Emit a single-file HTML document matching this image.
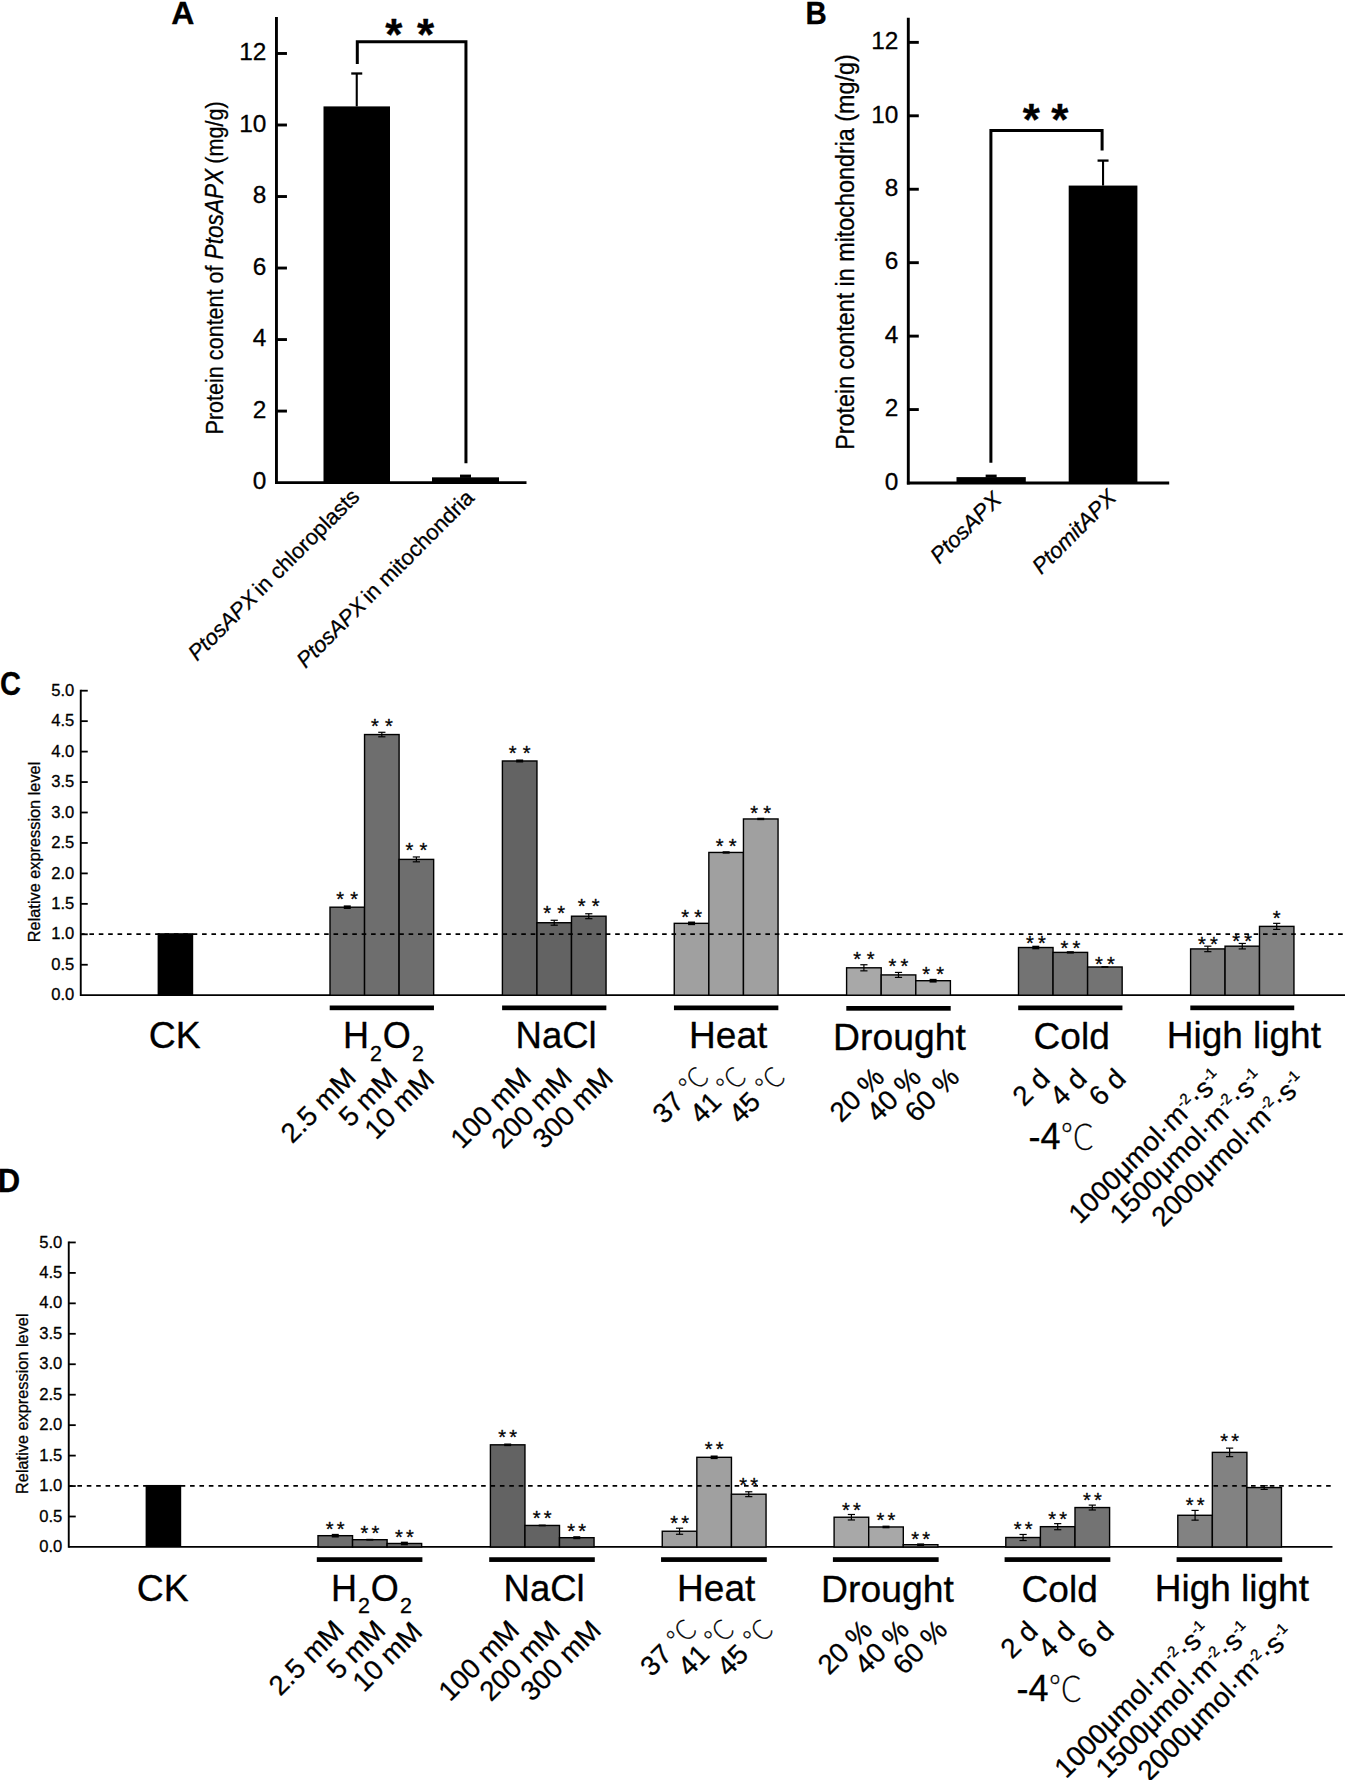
<!DOCTYPE html>
<html lang="en">
<head>
<meta charset="utf-8">
<title>Figure</title>
<style>
html,body{margin:0;padding:0;background:#fff;}
svg{display:block;}
text{font-family:"Liberation Sans",sans-serif;fill:#000;stroke:#000;stroke-width:0.3px;stroke-linejoin:round;}
</style>
</head>
<body>
<svg width="1345" height="1780" viewBox="0 0 1345 1780">
<rect x="0" y="0" width="1345" height="1780" fill="#fff"/>
<g id="panelA">
<text transform="translate(171.30 24.10) scale(1.0 1)" font-size="32.0" font-weight="bold">A</text>
<line x1="276.45" y1="17.00" x2="276.45" y2="484.00" stroke="#000" stroke-width="2.9" />
<line x1="275.05" y1="482.60" x2="526.50" y2="482.60" stroke="#000" stroke-width="2.9" />
<line x1="276.45" y1="411.08" x2="286.95" y2="411.08" stroke="#000" stroke-width="2.9" />
<line x1="276.45" y1="339.56" x2="286.95" y2="339.56" stroke="#000" stroke-width="2.9" />
<line x1="276.45" y1="268.04" x2="286.95" y2="268.04" stroke="#000" stroke-width="2.9" />
<line x1="276.45" y1="196.52" x2="286.95" y2="196.52" stroke="#000" stroke-width="2.9" />
<line x1="276.45" y1="125.00" x2="286.95" y2="125.00" stroke="#000" stroke-width="2.9" />
<line x1="276.45" y1="53.48" x2="286.95" y2="53.48" stroke="#000" stroke-width="2.9" />
<text x="266.45" y="489.30" font-size="24.4" text-anchor="end" >0</text>
<text x="266.45" y="417.78" font-size="24.4" text-anchor="end" >2</text>
<text x="266.45" y="346.26" font-size="24.4" text-anchor="end" >4</text>
<text x="266.45" y="274.74" font-size="24.4" text-anchor="end" >6</text>
<text x="266.45" y="203.22" font-size="24.4" text-anchor="end" >8</text>
<text x="266.45" y="131.70" font-size="24.4" text-anchor="end" >10</text>
<text x="266.45" y="60.18" font-size="24.4" text-anchor="end" >12</text>
<rect x="323.50" y="106.40" width="66.50" height="376.70" fill="#000"/>
<line x1="356.75" y1="73.50" x2="356.75" y2="106.40" stroke="#000" stroke-width="2.1" />
<line x1="351.25" y1="73.50" x2="362.25" y2="73.50" stroke="#000" stroke-width="2.3" />
<rect x="432.00" y="477.34" width="67.00" height="5.76" fill="#000"/>
<rect x="460.00" y="474.60" width="11.00" height="3.24" fill="#000"/>
<path d="M357.30,63.90 V41.80 H465.95 V463.30" fill="none" stroke="#000" stroke-width="3" stroke-linejoin="miter"/>
<text x="393.90" y="50.40" font-size="44" text-anchor="middle" font-weight="bold" >*</text>
<text x="425.60" y="50.40" font-size="44" text-anchor="middle" font-weight="bold" >*</text>
<text transform="translate(223 434.5) rotate(-90) scale(0.8777 1)" font-size="24.6">Protein content of <tspan font-style="italic" font-size="25.8">PtosAPX</tspan><tspan dx="-1.0"> (mg/g)</tspan></text>
<text x="360.80" y="498.00" font-size="21.9" text-anchor="end" transform="rotate(-45 360.80 498.00)" ><tspan font-style="italic">PtosAPX</tspan><tspan dx="-2"> in chloroplasts</tspan></text>
<text x="475.40" y="499.20" font-size="21.9" text-anchor="end" transform="rotate(-45 475.40 499.20)" ><tspan font-style="italic">PtosAPX</tspan><tspan dx="-2"> in mitochondria</tspan></text>
</g>
<g id="panelB">
<text transform="translate(805.60 24.00) scale(0.925 1)" font-size="31.8" font-weight="bold">B</text>
<line x1="908.30" y1="17.80" x2="908.30" y2="484.40" stroke="#000" stroke-width="2.9" />
<line x1="906.90" y1="483.00" x2="1169.20" y2="483.00" stroke="#000" stroke-width="2.9" />
<line x1="908.30" y1="409.56" x2="918.80" y2="409.56" stroke="#000" stroke-width="2.9" />
<line x1="908.30" y1="336.12" x2="918.80" y2="336.12" stroke="#000" stroke-width="2.9" />
<line x1="908.30" y1="262.68" x2="918.80" y2="262.68" stroke="#000" stroke-width="2.9" />
<line x1="908.30" y1="189.24" x2="918.80" y2="189.24" stroke="#000" stroke-width="2.9" />
<line x1="908.30" y1="115.80" x2="918.80" y2="115.80" stroke="#000" stroke-width="2.9" />
<line x1="908.30" y1="42.36" x2="918.80" y2="42.36" stroke="#000" stroke-width="2.9" />
<text x="898.30" y="489.70" font-size="24.4" text-anchor="end" >0</text>
<text x="898.30" y="416.26" font-size="24.4" text-anchor="end" >2</text>
<text x="898.30" y="342.82" font-size="24.4" text-anchor="end" >4</text>
<text x="898.30" y="269.38" font-size="24.4" text-anchor="end" >6</text>
<text x="898.30" y="195.94" font-size="24.4" text-anchor="end" >8</text>
<text x="898.30" y="122.50" font-size="24.4" text-anchor="end" >10</text>
<text x="898.30" y="49.06" font-size="24.4" text-anchor="end" >12</text>
<rect x="956.50" y="477.12" width="69.30" height="6.38" fill="#000"/>
<rect x="985.65" y="474.60" width="11.00" height="3.02" fill="#000"/>
<rect x="1068.70" y="185.57" width="68.70" height="297.93" fill="#000"/>
<line x1="1103.05" y1="160.60" x2="1103.05" y2="185.57" stroke="#000" stroke-width="2.1" />
<line x1="1097.55" y1="160.60" x2="1108.55" y2="160.60" stroke="#000" stroke-width="2.3" />
<path d="M990.90,462.80 V130.60 H1102.10 V150.50" fill="none" stroke="#000" stroke-width="3" stroke-linejoin="miter"/>
<text x="1031.30" y="135.40" font-size="44" text-anchor="middle" font-weight="bold" >*</text>
<text x="1059.70" y="135.40" font-size="44" text-anchor="middle" font-weight="bold" >*</text>
<text x="854.00" y="449.80" font-size="25" text-anchor="start" transform="rotate(-90 854.00 449.80)" textLength="395.5" lengthAdjust="spacingAndGlyphs" >Protein content in mitochondria (mg/g)</text>
<text x="1002.70" y="501.30" font-size="22.4" text-anchor="end" transform="rotate(-45 1002.70 501.30)" font-style="italic">PtosAPX</text>
<text x="1117.50" y="499.10" font-size="22.3" text-anchor="end" transform="rotate(-45 1117.50 499.10)" font-style="italic">PtomitAPX</text>
</g>
<g id="panelC">
<text transform="translate(0.00 694.60) scale(0.88 1)" font-size="33.0" font-weight="bold">C</text>
<line x1="80.75" y1="689.80" x2="80.75" y2="996.10" stroke="#000" stroke-width="1.9" />
<line x1="80.75" y1="995.20" x2="1345.00" y2="995.20" stroke="#000" stroke-width="1.8" />
<text x="74.25" y="1000.30" font-size="16.6" text-anchor="end" >0.0</text>
<line x1="80.75" y1="964.75" x2="87.75" y2="964.75" stroke="#000" stroke-width="1.8" />
<text x="74.25" y="969.85" font-size="16.6" text-anchor="end" >0.5</text>
<line x1="80.75" y1="934.30" x2="87.75" y2="934.30" stroke="#000" stroke-width="1.8" />
<text x="74.25" y="939.40" font-size="16.6" text-anchor="end" >1.0</text>
<line x1="80.75" y1="903.85" x2="87.75" y2="903.85" stroke="#000" stroke-width="1.8" />
<text x="74.25" y="908.95" font-size="16.6" text-anchor="end" >1.5</text>
<line x1="80.75" y1="873.40" x2="87.75" y2="873.40" stroke="#000" stroke-width="1.8" />
<text x="74.25" y="878.50" font-size="16.6" text-anchor="end" >2.0</text>
<line x1="80.75" y1="842.95" x2="87.75" y2="842.95" stroke="#000" stroke-width="1.8" />
<text x="74.25" y="848.05" font-size="16.6" text-anchor="end" >2.5</text>
<line x1="80.75" y1="812.50" x2="87.75" y2="812.50" stroke="#000" stroke-width="1.8" />
<text x="74.25" y="817.60" font-size="16.6" text-anchor="end" >3.0</text>
<line x1="80.75" y1="782.05" x2="87.75" y2="782.05" stroke="#000" stroke-width="1.8" />
<text x="74.25" y="787.15" font-size="16.6" text-anchor="end" >3.5</text>
<line x1="80.75" y1="751.60" x2="87.75" y2="751.60" stroke="#000" stroke-width="1.8" />
<text x="74.25" y="756.70" font-size="16.6" text-anchor="end" >4.0</text>
<line x1="80.75" y1="721.15" x2="87.75" y2="721.15" stroke="#000" stroke-width="1.8" />
<text x="74.25" y="726.25" font-size="16.6" text-anchor="end" >4.5</text>
<line x1="80.75" y1="690.70" x2="87.75" y2="690.70" stroke="#000" stroke-width="1.8" />
<text x="74.25" y="695.80" font-size="16.6" text-anchor="end" >5.0</text>
<text x="39.75" y="942.20" font-size="16" text-anchor="start" transform="rotate(-90 39.75 942.20)" textLength="180.5" lengthAdjust="spacingAndGlyphs" >Relative expression level</text>
<rect x="157.60" y="933.20" width="35.60" height="62.00" fill="#000"/>
<rect x="330.00" y="907.20" width="34.55" height="88.00" fill="#6e6e6e" stroke="#000" stroke-width="1.4"/>
<rect x="364.55" y="734.55" width="34.55" height="260.65" fill="#6e6e6e" stroke="#000" stroke-width="1.4"/>
<rect x="399.10" y="859.39" width="34.55" height="135.81" fill="#6e6e6e" stroke="#000" stroke-width="1.4"/>
<line x1="343.77" y1="907.20" x2="350.77" y2="907.20" stroke="#000" stroke-width="3.636" />
<text x="340.27" y="906.10" font-size="20" text-anchor="middle" >*</text>
<text x="354.27" y="906.10" font-size="20" text-anchor="middle" >*</text>
<line x1="381.82" y1="732.29" x2="381.82" y2="736.80" stroke="#000" stroke-width="1.2" />
<line x1="378.22" y1="732.29" x2="385.43" y2="732.29" stroke="#000" stroke-width="1.2" />
<line x1="378.22" y1="736.80" x2="385.43" y2="736.80" stroke="#000" stroke-width="1.2" />
<text x="374.82" y="733.45" font-size="20" text-anchor="middle" >*</text>
<text x="388.82" y="733.45" font-size="20" text-anchor="middle" >*</text>
<line x1="416.38" y1="856.96" x2="416.38" y2="861.83" stroke="#000" stroke-width="1.2" />
<line x1="412.77" y1="856.96" x2="419.98" y2="856.96" stroke="#000" stroke-width="1.2" />
<line x1="412.77" y1="861.83" x2="419.98" y2="861.83" stroke="#000" stroke-width="1.2" />
<text x="409.38" y="856.54" font-size="20" text-anchor="middle" >*</text>
<text x="423.38" y="856.54" font-size="20" text-anchor="middle" >*</text>
<rect x="329.70" y="1005.50" width="104.25" height="4.70" fill="#000"/>
<rect x="502.40" y="760.98" width="34.55" height="234.22" fill="#636363" stroke="#000" stroke-width="1.4"/>
<rect x="536.95" y="922.73" width="34.55" height="72.47" fill="#636363" stroke="#000" stroke-width="1.4"/>
<rect x="571.50" y="916.21" width="34.55" height="78.99" fill="#636363" stroke="#000" stroke-width="1.4"/>
<line x1="516.17" y1="760.98" x2="523.17" y2="760.98" stroke="#000" stroke-width="3.027" />
<text x="512.67" y="759.88" font-size="20" text-anchor="middle" >*</text>
<text x="526.67" y="759.88" font-size="20" text-anchor="middle" >*</text>
<line x1="554.22" y1="920.26" x2="554.22" y2="925.20" stroke="#000" stroke-width="1.2" />
<line x1="550.62" y1="920.26" x2="557.82" y2="920.26" stroke="#000" stroke-width="1.2" />
<line x1="550.62" y1="925.20" x2="557.82" y2="925.20" stroke="#000" stroke-width="1.2" />
<text x="547.22" y="919.88" font-size="20" text-anchor="middle" >*</text>
<text x="561.22" y="919.88" font-size="20" text-anchor="middle" >*</text>
<line x1="588.77" y1="913.75" x2="588.77" y2="918.68" stroke="#000" stroke-width="1.2" />
<line x1="585.17" y1="913.75" x2="592.38" y2="913.75" stroke="#000" stroke-width="1.2" />
<line x1="585.17" y1="918.68" x2="592.38" y2="918.68" stroke="#000" stroke-width="1.2" />
<text x="581.77" y="913.36" font-size="20" text-anchor="middle" >*</text>
<text x="595.77" y="913.36" font-size="20" text-anchor="middle" >*</text>
<rect x="502.10" y="1005.50" width="104.25" height="4.70" fill="#000"/>
<rect x="674.25" y="923.34" width="34.60" height="71.86" fill="#a0a0a0" stroke="#000" stroke-width="1.4"/>
<rect x="708.85" y="852.45" width="34.60" height="142.75" fill="#a0a0a0" stroke="#000" stroke-width="1.4"/>
<rect x="743.45" y="818.96" width="34.60" height="176.24" fill="#a0a0a0" stroke="#000" stroke-width="1.4"/>
<line x1="688.05" y1="923.34" x2="695.05" y2="923.34" stroke="#000" stroke-width="3.636" />
<text x="685.05" y="924.24" font-size="20" text-anchor="middle" >*</text>
<text x="698.05" y="924.24" font-size="20" text-anchor="middle" >*</text>
<line x1="722.65" y1="852.45" x2="729.65" y2="852.45" stroke="#000" stroke-width="2.418" />
<text x="719.65" y="853.35" font-size="20" text-anchor="middle" >*</text>
<text x="732.65" y="853.35" font-size="20" text-anchor="middle" >*</text>
<line x1="757.25" y1="818.96" x2="764.25" y2="818.96" stroke="#000" stroke-width="2.418" />
<text x="754.25" y="819.86" font-size="20" text-anchor="middle" >*</text>
<text x="767.25" y="819.86" font-size="20" text-anchor="middle" >*</text>
<rect x="673.95" y="1005.50" width="104.40" height="4.70" fill="#000"/>
<rect x="846.60" y="967.80" width="34.60" height="27.41" fill="#a8a8a8" stroke="#000" stroke-width="1.4"/>
<rect x="881.20" y="974.92" width="34.60" height="20.28" fill="#a8a8a8" stroke="#000" stroke-width="1.4"/>
<rect x="915.80" y="980.71" width="34.60" height="14.49" fill="#a8a8a8" stroke="#000" stroke-width="1.4"/>
<line x1="863.90" y1="964.75" x2="863.90" y2="970.84" stroke="#000" stroke-width="1.2" />
<line x1="860.30" y1="964.75" x2="867.50" y2="964.75" stroke="#000" stroke-width="1.2" />
<line x1="860.30" y1="970.84" x2="867.50" y2="970.84" stroke="#000" stroke-width="1.2" />
<text x="857.15" y="965.75" font-size="20" text-anchor="middle" >*</text>
<text x="870.65" y="965.75" font-size="20" text-anchor="middle" >*</text>
<line x1="898.50" y1="972.42" x2="898.50" y2="977.42" stroke="#000" stroke-width="1.2" />
<line x1="894.90" y1="972.42" x2="902.10" y2="972.42" stroke="#000" stroke-width="1.2" />
<line x1="894.90" y1="977.42" x2="902.10" y2="977.42" stroke="#000" stroke-width="1.2" />
<text x="892.50" y="973.27" font-size="20" text-anchor="middle" >*</text>
<text x="904.50" y="973.27" font-size="20" text-anchor="middle" >*</text>
<line x1="929.60" y1="980.71" x2="936.60" y2="980.71" stroke="#000" stroke-width="3.7578000000000005" />
<text x="926.10" y="980.81" font-size="20" text-anchor="middle" >*</text>
<text x="940.10" y="980.81" font-size="20" text-anchor="middle" >*</text>
<rect x="846.30" y="1006.00" width="104.40" height="4.70" fill="#000"/>
<rect x="1018.50" y="947.52" width="34.55" height="47.68" fill="#737373" stroke="#000" stroke-width="1.4"/>
<rect x="1053.05" y="952.39" width="34.55" height="42.81" fill="#737373" stroke="#000" stroke-width="1.4"/>
<rect x="1087.60" y="967.00" width="34.55" height="28.20" fill="#737373" stroke="#000" stroke-width="1.4"/>
<line x1="1032.28" y1="947.52" x2="1039.28" y2="947.52" stroke="#000" stroke-width="3.636" />
<text x="1029.78" y="950.02" font-size="20" text-anchor="middle" >*</text>
<text x="1041.78" y="950.02" font-size="20" text-anchor="middle" >*</text>
<line x1="1066.83" y1="952.39" x2="1073.83" y2="952.39" stroke="#000" stroke-width="2.418" />
<text x="1064.33" y="955.39" font-size="20" text-anchor="middle" >*</text>
<text x="1076.33" y="955.39" font-size="20" text-anchor="middle" >*</text>
<line x1="1101.38" y1="967.00" x2="1108.38" y2="967.00" stroke="#000" stroke-width="1.809" />
<text x="1098.88" y="970.50" font-size="20" text-anchor="middle" >*</text>
<text x="1110.88" y="970.50" font-size="20" text-anchor="middle" >*</text>
<rect x="1018.20" y="1005.50" width="104.25" height="4.70" fill="#000"/>
<rect x="1190.60" y="948.92" width="34.45" height="46.28" fill="#828282" stroke="#000" stroke-width="1.4"/>
<rect x="1225.05" y="946.18" width="34.45" height="49.02" fill="#828282" stroke="#000" stroke-width="1.4"/>
<rect x="1259.50" y="926.38" width="34.45" height="68.82" fill="#828282" stroke="#000" stroke-width="1.4"/>
<line x1="1207.82" y1="946.18" x2="1207.82" y2="951.66" stroke="#000" stroke-width="1.2" />
<line x1="1204.22" y1="946.18" x2="1211.42" y2="946.18" stroke="#000" stroke-width="1.2" />
<line x1="1204.22" y1="951.66" x2="1211.42" y2="951.66" stroke="#000" stroke-width="1.2" />
<text x="1201.82" y="950.97" font-size="20" text-anchor="middle" >*</text>
<text x="1213.82" y="950.97" font-size="20" text-anchor="middle" >*</text>
<line x1="1242.27" y1="943.44" x2="1242.27" y2="948.92" stroke="#000" stroke-width="1.2" />
<line x1="1238.67" y1="943.44" x2="1245.87" y2="943.44" stroke="#000" stroke-width="1.2" />
<line x1="1238.67" y1="948.92" x2="1245.87" y2="948.92" stroke="#000" stroke-width="1.2" />
<text x="1236.27" y="947.93" font-size="20" text-anchor="middle" >*</text>
<text x="1248.27" y="947.93" font-size="20" text-anchor="middle" >*</text>
<line x1="1276.72" y1="923.34" x2="1276.72" y2="929.43" stroke="#000" stroke-width="1.2" />
<line x1="1273.12" y1="923.34" x2="1280.32" y2="923.34" stroke="#000" stroke-width="1.2" />
<line x1="1273.12" y1="929.43" x2="1280.32" y2="929.43" stroke="#000" stroke-width="1.2" />
<text x="1276.72" y="925.03" font-size="20" text-anchor="middle" >*</text>
<rect x="1190.30" y="1005.50" width="103.95" height="4.70" fill="#000"/>
<line x1="81.50" y1="934.10" x2="1345.00" y2="934.10" stroke="#000" stroke-width="1.7" stroke-dasharray="4.6 4.789" stroke-dashoffset="1.5" stroke-linecap="butt"/>
<text x="148.80" y="1048.30" font-size="37.4" text-anchor="start" >CK</text>
<text x="342.90" y="1048.30" font-size="36" text-anchor="start" >H<tspan font-size="21.5" dy="12.6" dx="1">2</tspan><tspan dy="-12.6" dx="1">O</tspan><tspan font-size="21.5" dy="12.6" dx="1">2</tspan></text>
<text x="515.60" y="1048.30" font-size="36.5" text-anchor="start" >NaCl</text>
<text x="689.10" y="1048.30" font-size="37" text-anchor="start" >Heat</text>
<text x="833.10" y="1049.90" font-size="37.3" text-anchor="start" >Drought</text>
<text x="1033.60" y="1049.10" font-size="37.1" text-anchor="start" >Cold</text>
<text x="1166.70" y="1048.30" font-size="37" text-anchor="start" >High light</text>
<text x="357.50" y="1079.30" font-size="27.7" text-anchor="end" transform="rotate(-45 357.50 1079.30)" >2.5 mM</text>
<text x="399.10" y="1079.30" font-size="27.7" text-anchor="end" transform="rotate(-45 399.10 1079.30)" >5 mM</text>
<text x="435.80" y="1080.80" font-size="27.7" text-anchor="end" transform="rotate(-45 435.80 1080.80)" >10 mM</text>
<text x="532.80" y="1079.30" font-size="27.7" text-anchor="end" transform="rotate(-45 532.80 1079.30)" >100 mM</text>
<text x="573.70" y="1079.30" font-size="27.7" text-anchor="end" transform="rotate(-45 573.70 1079.30)" >200 mM</text>
<text x="614.70" y="1079.30" font-size="27.7" text-anchor="end" transform="rotate(-45 614.70 1079.30)" >300 mM</text>
<text x="710.70" y="1078.30" font-size="27.7" text-anchor="end" transform="rotate(-45 710.70 1078.30)" >37 <tspan font-family="Noto Sans CJK SC, sans-serif" font-weight="100">℃</tspan></text>
<text x="748.00" y="1078.30" font-size="27.7" text-anchor="end" transform="rotate(-45 748.00 1078.30)" >41 <tspan font-family="Noto Sans CJK SC, sans-serif" font-weight="100">℃</tspan></text>
<text x="787.00" y="1078.30" font-size="27.7" text-anchor="end" transform="rotate(-45 787.00 1078.30)" >45 <tspan font-family="Noto Sans CJK SC, sans-serif" font-weight="100">℃</tspan></text>
<text x="885.80" y="1078.80" font-size="27.7" text-anchor="end" transform="rotate(-45 885.80 1078.80)" >20 %</text>
<text x="922.70" y="1078.80" font-size="27.7" text-anchor="end" transform="rotate(-45 922.70 1078.80)" >40 %</text>
<text x="960.90" y="1078.80" font-size="27.7" text-anchor="end" transform="rotate(-45 960.90 1078.80)" >60 %</text>
<text x="1051.30" y="1080.30" font-size="27.7" text-anchor="end" transform="rotate(-45 1051.30 1080.30)" >2 d</text>
<text x="1088.50" y="1080.30" font-size="27.7" text-anchor="end" transform="rotate(-45 1088.50 1080.30)" >4 d</text>
<text x="1127.50" y="1080.30" font-size="27.7" text-anchor="end" transform="rotate(-45 1127.50 1080.30)" >6 d</text>
<text x="1224.40" y="1080.70" font-size="27.7" text-anchor="end" transform="rotate(-45 1224.40 1080.70)" >1000μmol·m<tspan font-size="15" dy="-10">-2</tspan><tspan dy="10">·s</tspan><tspan font-size="15" dy="-10">-1</tspan></text>
<text x="1265.60" y="1080.70" font-size="27.7" text-anchor="end" transform="rotate(-45 1265.60 1080.70)" >1500μmol·m<tspan font-size="15" dy="-10">-2</tspan><tspan dy="10">·s</tspan><tspan font-size="15" dy="-10">-1</tspan></text>
<text x="1307.50" y="1083.50" font-size="27.7" text-anchor="end" transform="rotate(-45 1307.50 1083.50)" >2000μmol·m<tspan font-size="15" dy="-10">-2</tspan><tspan dy="10">·s</tspan><tspan font-size="15" dy="-10">-1</tspan></text>
<text x="1028.40" y="1148.50" font-size="36" text-anchor="start" >-4<tspan font-family="Noto Sans CJK SC, sans-serif" font-weight="100" font-size="34">℃</tspan></text>
</g>
<g id="panelD">
<text transform="translate(-2.30 1191.90) scale(0.96 1)" font-size="32.3" font-weight="bold">D</text>
<line x1="68.75" y1="1241.55" x2="68.75" y2="1547.85" stroke="#000" stroke-width="1.9" />
<line x1="68.75" y1="1546.95" x2="1332.50" y2="1546.95" stroke="#000" stroke-width="1.8" />
<text x="62.25" y="1552.05" font-size="16.6" text-anchor="end" >0.0</text>
<line x1="68.75" y1="1516.50" x2="75.75" y2="1516.50" stroke="#000" stroke-width="1.8" />
<text x="62.25" y="1521.60" font-size="16.6" text-anchor="end" >0.5</text>
<line x1="68.75" y1="1486.05" x2="75.75" y2="1486.05" stroke="#000" stroke-width="1.8" />
<text x="62.25" y="1491.15" font-size="16.6" text-anchor="end" >1.0</text>
<line x1="68.75" y1="1455.60" x2="75.75" y2="1455.60" stroke="#000" stroke-width="1.8" />
<text x="62.25" y="1460.70" font-size="16.6" text-anchor="end" >1.5</text>
<line x1="68.75" y1="1425.15" x2="75.75" y2="1425.15" stroke="#000" stroke-width="1.8" />
<text x="62.25" y="1430.25" font-size="16.6" text-anchor="end" >2.0</text>
<line x1="68.75" y1="1394.70" x2="75.75" y2="1394.70" stroke="#000" stroke-width="1.8" />
<text x="62.25" y="1399.80" font-size="16.6" text-anchor="end" >2.5</text>
<line x1="68.75" y1="1364.25" x2="75.75" y2="1364.25" stroke="#000" stroke-width="1.8" />
<text x="62.25" y="1369.35" font-size="16.6" text-anchor="end" >3.0</text>
<line x1="68.75" y1="1333.80" x2="75.75" y2="1333.80" stroke="#000" stroke-width="1.8" />
<text x="62.25" y="1338.90" font-size="16.6" text-anchor="end" >3.5</text>
<line x1="68.75" y1="1303.35" x2="75.75" y2="1303.35" stroke="#000" stroke-width="1.8" />
<text x="62.25" y="1308.45" font-size="16.6" text-anchor="end" >4.0</text>
<line x1="68.75" y1="1272.90" x2="75.75" y2="1272.90" stroke="#000" stroke-width="1.8" />
<text x="62.25" y="1278.00" font-size="16.6" text-anchor="end" >4.5</text>
<line x1="68.75" y1="1242.45" x2="75.75" y2="1242.45" stroke="#000" stroke-width="1.8" />
<text x="62.25" y="1247.55" font-size="16.6" text-anchor="end" >5.0</text>
<text x="27.75" y="1493.95" font-size="16" text-anchor="start" transform="rotate(-90 27.75 1493.95)" textLength="180.5" lengthAdjust="spacingAndGlyphs" >Relative expression level</text>
<rect x="145.60" y="1484.95" width="35.60" height="62.00" fill="#000"/>
<rect x="318.00" y="1535.68" width="34.55" height="11.27" fill="#6e6e6e" stroke="#000" stroke-width="1.4"/>
<rect x="352.55" y="1539.70" width="34.55" height="7.25" fill="#6e6e6e" stroke="#000" stroke-width="1.4"/>
<rect x="387.10" y="1543.48" width="34.55" height="3.47" fill="#6e6e6e" stroke="#000" stroke-width="1.4"/>
<line x1="331.77" y1="1535.68" x2="338.77" y2="1535.68" stroke="#000" stroke-width="3.636" />
<text x="329.77" y="1535.58" font-size="20" text-anchor="middle" >*</text>
<text x="340.77" y="1535.58" font-size="20" text-anchor="middle" >*</text>
<line x1="366.32" y1="1539.70" x2="373.32" y2="1539.70" stroke="#000" stroke-width="1.809" />
<text x="364.32" y="1539.80" font-size="20" text-anchor="middle" >*</text>
<text x="375.32" y="1539.80" font-size="20" text-anchor="middle" >*</text>
<line x1="400.88" y1="1543.48" x2="407.88" y2="1543.48" stroke="#000" stroke-width="3.636" />
<text x="398.88" y="1544.18" font-size="20" text-anchor="middle" >*</text>
<text x="409.88" y="1544.18" font-size="20" text-anchor="middle" >*</text>
<rect x="316.80" y="1557.25" width="105.60" height="4.70" fill="#000"/>
<rect x="490.40" y="1444.82" width="34.55" height="102.13" fill="#636363" stroke="#000" stroke-width="1.4"/>
<rect x="524.95" y="1525.45" width="34.55" height="21.50" fill="#636363" stroke="#000" stroke-width="1.4"/>
<rect x="559.50" y="1537.69" width="34.55" height="9.26" fill="#636363" stroke="#000" stroke-width="1.4"/>
<line x1="504.17" y1="1444.82" x2="511.17" y2="1444.82" stroke="#000" stroke-width="2.6616" />
<text x="502.17" y="1443.72" font-size="20" text-anchor="middle" >*</text>
<text x="513.17" y="1443.72" font-size="20" text-anchor="middle" >*</text>
<line x1="538.72" y1="1525.45" x2="545.72" y2="1525.45" stroke="#000" stroke-width="1.809" />
<text x="536.72" y="1524.65" font-size="20" text-anchor="middle" >*</text>
<text x="547.72" y="1524.65" font-size="20" text-anchor="middle" >*</text>
<line x1="573.27" y1="1537.69" x2="580.27" y2="1537.69" stroke="#000" stroke-width="3.027" />
<text x="571.27" y="1537.59" font-size="20" text-anchor="middle" >*</text>
<text x="582.27" y="1537.59" font-size="20" text-anchor="middle" >*</text>
<rect x="489.20" y="1557.25" width="105.60" height="4.70" fill="#000"/>
<rect x="662.25" y="1531.24" width="34.60" height="15.71" fill="#a0a0a0" stroke="#000" stroke-width="1.4"/>
<rect x="696.85" y="1457.31" width="34.60" height="89.64" fill="#a0a0a0" stroke="#000" stroke-width="1.4"/>
<rect x="731.45" y="1494.21" width="34.60" height="52.74" fill="#a0a0a0" stroke="#000" stroke-width="1.4"/>
<line x1="679.55" y1="1528.19" x2="679.55" y2="1534.28" stroke="#000" stroke-width="1.2" />
<line x1="675.95" y1="1528.19" x2="683.15" y2="1528.19" stroke="#000" stroke-width="1.2" />
<line x1="675.95" y1="1534.28" x2="683.15" y2="1534.28" stroke="#000" stroke-width="1.2" />
<text x="674.05" y="1530.39" font-size="20" text-anchor="middle" >*</text>
<text x="685.05" y="1530.39" font-size="20" text-anchor="middle" >*</text>
<line x1="710.65" y1="1457.31" x2="717.65" y2="1457.31" stroke="#000" stroke-width="3.636" />
<text x="708.65" y="1456.21" font-size="20" text-anchor="middle" >*</text>
<text x="719.65" y="1456.21" font-size="20" text-anchor="middle" >*</text>
<line x1="748.75" y1="1491.77" x2="748.75" y2="1496.65" stroke="#000" stroke-width="1.2" />
<line x1="745.15" y1="1491.77" x2="752.35" y2="1491.77" stroke="#000" stroke-width="1.2" />
<line x1="745.15" y1="1496.65" x2="752.35" y2="1496.65" stroke="#000" stroke-width="1.2" />
<text x="743.25" y="1491.86" font-size="20" text-anchor="middle" >*</text>
<text x="754.25" y="1491.86" font-size="20" text-anchor="middle" >*</text>
<rect x="661.05" y="1557.25" width="105.75" height="4.70" fill="#000"/>
<rect x="834.10" y="1517.23" width="34.60" height="29.72" fill="#a8a8a8" stroke="#000" stroke-width="1.4"/>
<rect x="868.70" y="1526.97" width="34.60" height="19.98" fill="#a8a8a8" stroke="#000" stroke-width="1.4"/>
<rect x="903.30" y="1544.70" width="34.60" height="2.25" fill="#a8a8a8" stroke="#000" stroke-width="1.4"/>
<line x1="851.40" y1="1514.49" x2="851.40" y2="1519.97" stroke="#000" stroke-width="1.2" />
<line x1="847.80" y1="1514.49" x2="855.00" y2="1514.49" stroke="#000" stroke-width="1.2" />
<line x1="847.80" y1="1519.97" x2="855.00" y2="1519.97" stroke="#000" stroke-width="1.2" />
<text x="845.90" y="1517.38" font-size="20" text-anchor="middle" >*</text>
<text x="856.90" y="1517.38" font-size="20" text-anchor="middle" >*</text>
<line x1="882.50" y1="1526.97" x2="889.50" y2="1526.97" stroke="#000" stroke-width="2.6616" />
<text x="880.50" y="1526.87" font-size="20" text-anchor="middle" >*</text>
<text x="891.50" y="1526.87" font-size="20" text-anchor="middle" >*</text>
<line x1="917.10" y1="1544.70" x2="924.10" y2="1544.70" stroke="#000" stroke-width="2.6616" />
<text x="915.10" y="1545.60" font-size="20" text-anchor="middle" >*</text>
<text x="926.10" y="1545.60" font-size="20" text-anchor="middle" >*</text>
<rect x="832.90" y="1557.25" width="105.75" height="4.70" fill="#000"/>
<rect x="1005.80" y="1537.51" width="34.60" height="9.44" fill="#737373" stroke="#000" stroke-width="1.4"/>
<rect x="1040.40" y="1526.67" width="34.60" height="20.28" fill="#737373" stroke="#000" stroke-width="1.4"/>
<rect x="1075.00" y="1507.55" width="34.60" height="39.40" fill="#737373" stroke="#000" stroke-width="1.4"/>
<line x1="1023.10" y1="1534.47" x2="1023.10" y2="1540.56" stroke="#000" stroke-width="1.2" />
<line x1="1019.50" y1="1534.47" x2="1026.70" y2="1534.47" stroke="#000" stroke-width="1.2" />
<line x1="1019.50" y1="1540.56" x2="1026.70" y2="1540.56" stroke="#000" stroke-width="1.2" />
<text x="1017.60" y="1536.06" font-size="20" text-anchor="middle" >*</text>
<text x="1028.60" y="1536.06" font-size="20" text-anchor="middle" >*</text>
<line x1="1057.70" y1="1523.63" x2="1057.70" y2="1529.72" stroke="#000" stroke-width="1.2" />
<line x1="1054.10" y1="1523.63" x2="1061.30" y2="1523.63" stroke="#000" stroke-width="1.2" />
<line x1="1054.10" y1="1529.72" x2="1061.30" y2="1529.72" stroke="#000" stroke-width="1.2" />
<text x="1052.20" y="1525.52" font-size="20" text-anchor="middle" >*</text>
<text x="1063.20" y="1525.52" font-size="20" text-anchor="middle" >*</text>
<line x1="1092.30" y1="1505.11" x2="1092.30" y2="1509.98" stroke="#000" stroke-width="1.2" />
<line x1="1088.70" y1="1505.11" x2="1095.90" y2="1505.11" stroke="#000" stroke-width="1.2" />
<line x1="1088.70" y1="1509.98" x2="1095.90" y2="1509.98" stroke="#000" stroke-width="1.2" />
<text x="1086.80" y="1506.60" font-size="20" text-anchor="middle" >*</text>
<text x="1097.80" y="1506.60" font-size="20" text-anchor="middle" >*</text>
<rect x="1004.60" y="1557.25" width="105.75" height="4.70" fill="#000"/>
<rect x="1177.80" y="1515.28" width="34.55" height="31.67" fill="#828282" stroke="#000" stroke-width="1.4"/>
<rect x="1212.35" y="1452.37" width="34.55" height="94.58" fill="#828282" stroke="#000" stroke-width="1.4"/>
<rect x="1246.90" y="1487.57" width="34.55" height="59.38" fill="#828282" stroke="#000" stroke-width="1.4"/>
<line x1="1195.08" y1="1510.41" x2="1195.08" y2="1520.15" stroke="#000" stroke-width="1.2" />
<line x1="1191.48" y1="1510.41" x2="1198.67" y2="1510.41" stroke="#000" stroke-width="1.2" />
<line x1="1191.48" y1="1520.15" x2="1198.67" y2="1520.15" stroke="#000" stroke-width="1.2" />
<text x="1189.58" y="1511.93" font-size="20" text-anchor="middle" >*</text>
<text x="1200.58" y="1511.93" font-size="20" text-anchor="middle" >*</text>
<line x1="1229.62" y1="1448.11" x2="1229.62" y2="1456.64" stroke="#000" stroke-width="1.2" />
<line x1="1226.03" y1="1448.11" x2="1233.22" y2="1448.11" stroke="#000" stroke-width="1.2" />
<line x1="1226.03" y1="1456.64" x2="1233.22" y2="1456.64" stroke="#000" stroke-width="1.2" />
<text x="1224.12" y="1448.42" font-size="20" text-anchor="middle" >*</text>
<text x="1235.12" y="1448.42" font-size="20" text-anchor="middle" >*</text>
<line x1="1264.17" y1="1485.75" x2="1264.17" y2="1489.40" stroke="#000" stroke-width="1.2" />
<line x1="1260.58" y1="1485.75" x2="1267.77" y2="1485.75" stroke="#000" stroke-width="1.2" />
<line x1="1260.58" y1="1489.40" x2="1267.77" y2="1489.40" stroke="#000" stroke-width="1.2" />
<rect x="1176.60" y="1557.25" width="105.60" height="4.70" fill="#000"/>
<line x1="69.50" y1="1485.85" x2="1332.50" y2="1485.85" stroke="#000" stroke-width="1.7" stroke-dasharray="4.6 4.789" stroke-dashoffset="1.5" stroke-linecap="butt"/>
<text x="136.80" y="1600.85" font-size="37.4" text-anchor="start" >CK</text>
<text x="330.90" y="1600.85" font-size="36" text-anchor="start" >H<tspan font-size="21.5" dy="12.6" dx="1">2</tspan><tspan dy="-12.6" dx="1">O</tspan><tspan font-size="21.5" dy="12.6" dx="1">2</tspan></text>
<text x="503.60" y="1600.85" font-size="36.5" text-anchor="start" >NaCl</text>
<text x="677.10" y="1600.85" font-size="37" text-anchor="start" >Heat</text>
<text x="821.10" y="1602.45" font-size="37.3" text-anchor="start" >Drought</text>
<text x="1021.60" y="1601.65" font-size="37.1" text-anchor="start" >Cold</text>
<text x="1154.70" y="1600.85" font-size="37" text-anchor="start" >High light</text>
<text x="345.50" y="1631.85" font-size="27.7" text-anchor="end" transform="rotate(-45 345.50 1631.85)" >2.5 mM</text>
<text x="387.10" y="1631.85" font-size="27.7" text-anchor="end" transform="rotate(-45 387.10 1631.85)" >5 mM</text>
<text x="423.80" y="1633.35" font-size="27.7" text-anchor="end" transform="rotate(-45 423.80 1633.35)" >10 mM</text>
<text x="520.80" y="1631.85" font-size="27.7" text-anchor="end" transform="rotate(-45 520.80 1631.85)" >100 mM</text>
<text x="561.70" y="1631.85" font-size="27.7" text-anchor="end" transform="rotate(-45 561.70 1631.85)" >200 mM</text>
<text x="602.70" y="1631.85" font-size="27.7" text-anchor="end" transform="rotate(-45 602.70 1631.85)" >300 mM</text>
<text x="698.70" y="1630.85" font-size="27.7" text-anchor="end" transform="rotate(-45 698.70 1630.85)" >37 <tspan font-family="Noto Sans CJK SC, sans-serif" font-weight="100">℃</tspan></text>
<text x="736.00" y="1630.85" font-size="27.7" text-anchor="end" transform="rotate(-45 736.00 1630.85)" >41 <tspan font-family="Noto Sans CJK SC, sans-serif" font-weight="100">℃</tspan></text>
<text x="775.00" y="1630.85" font-size="27.7" text-anchor="end" transform="rotate(-45 775.00 1630.85)" >45 <tspan font-family="Noto Sans CJK SC, sans-serif" font-weight="100">℃</tspan></text>
<text x="873.80" y="1631.35" font-size="27.7" text-anchor="end" transform="rotate(-45 873.80 1631.35)" >20 %</text>
<text x="910.70" y="1631.35" font-size="27.7" text-anchor="end" transform="rotate(-45 910.70 1631.35)" >40 %</text>
<text x="948.90" y="1631.35" font-size="27.7" text-anchor="end" transform="rotate(-45 948.90 1631.35)" >60 %</text>
<text x="1039.30" y="1632.85" font-size="27.7" text-anchor="end" transform="rotate(-45 1039.30 1632.85)" >2 d</text>
<text x="1076.50" y="1632.85" font-size="27.7" text-anchor="end" transform="rotate(-45 1076.50 1632.85)" >4 d</text>
<text x="1115.50" y="1632.85" font-size="27.7" text-anchor="end" transform="rotate(-45 1115.50 1632.85)" >6 d</text>
<text x="1212.40" y="1633.25" font-size="28.12" text-anchor="end" transform="rotate(-45 1212.40 1633.25)" >1000μmol·m<tspan font-size="15" dy="-10">-2</tspan><tspan dy="10">·s</tspan><tspan font-size="15" dy="-10">-1</tspan></text>
<text x="1253.60" y="1633.25" font-size="28.12" text-anchor="end" transform="rotate(-45 1253.60 1633.25)" >1500μmol·m<tspan font-size="15" dy="-10">-2</tspan><tspan dy="10">·s</tspan><tspan font-size="15" dy="-10">-1</tspan></text>
<text x="1295.50" y="1636.05" font-size="28.12" text-anchor="end" transform="rotate(-45 1295.50 1636.05)" >2000μmol·m<tspan font-size="15" dy="-10">-2</tspan><tspan dy="10">·s</tspan><tspan font-size="15" dy="-10">-1</tspan></text>
<text x="1016.40" y="1701.05" font-size="36" text-anchor="start" >-4<tspan font-family="Noto Sans CJK SC, sans-serif" font-weight="100" font-size="34">℃</tspan></text>
</g>
</svg>
</body>
</html>
